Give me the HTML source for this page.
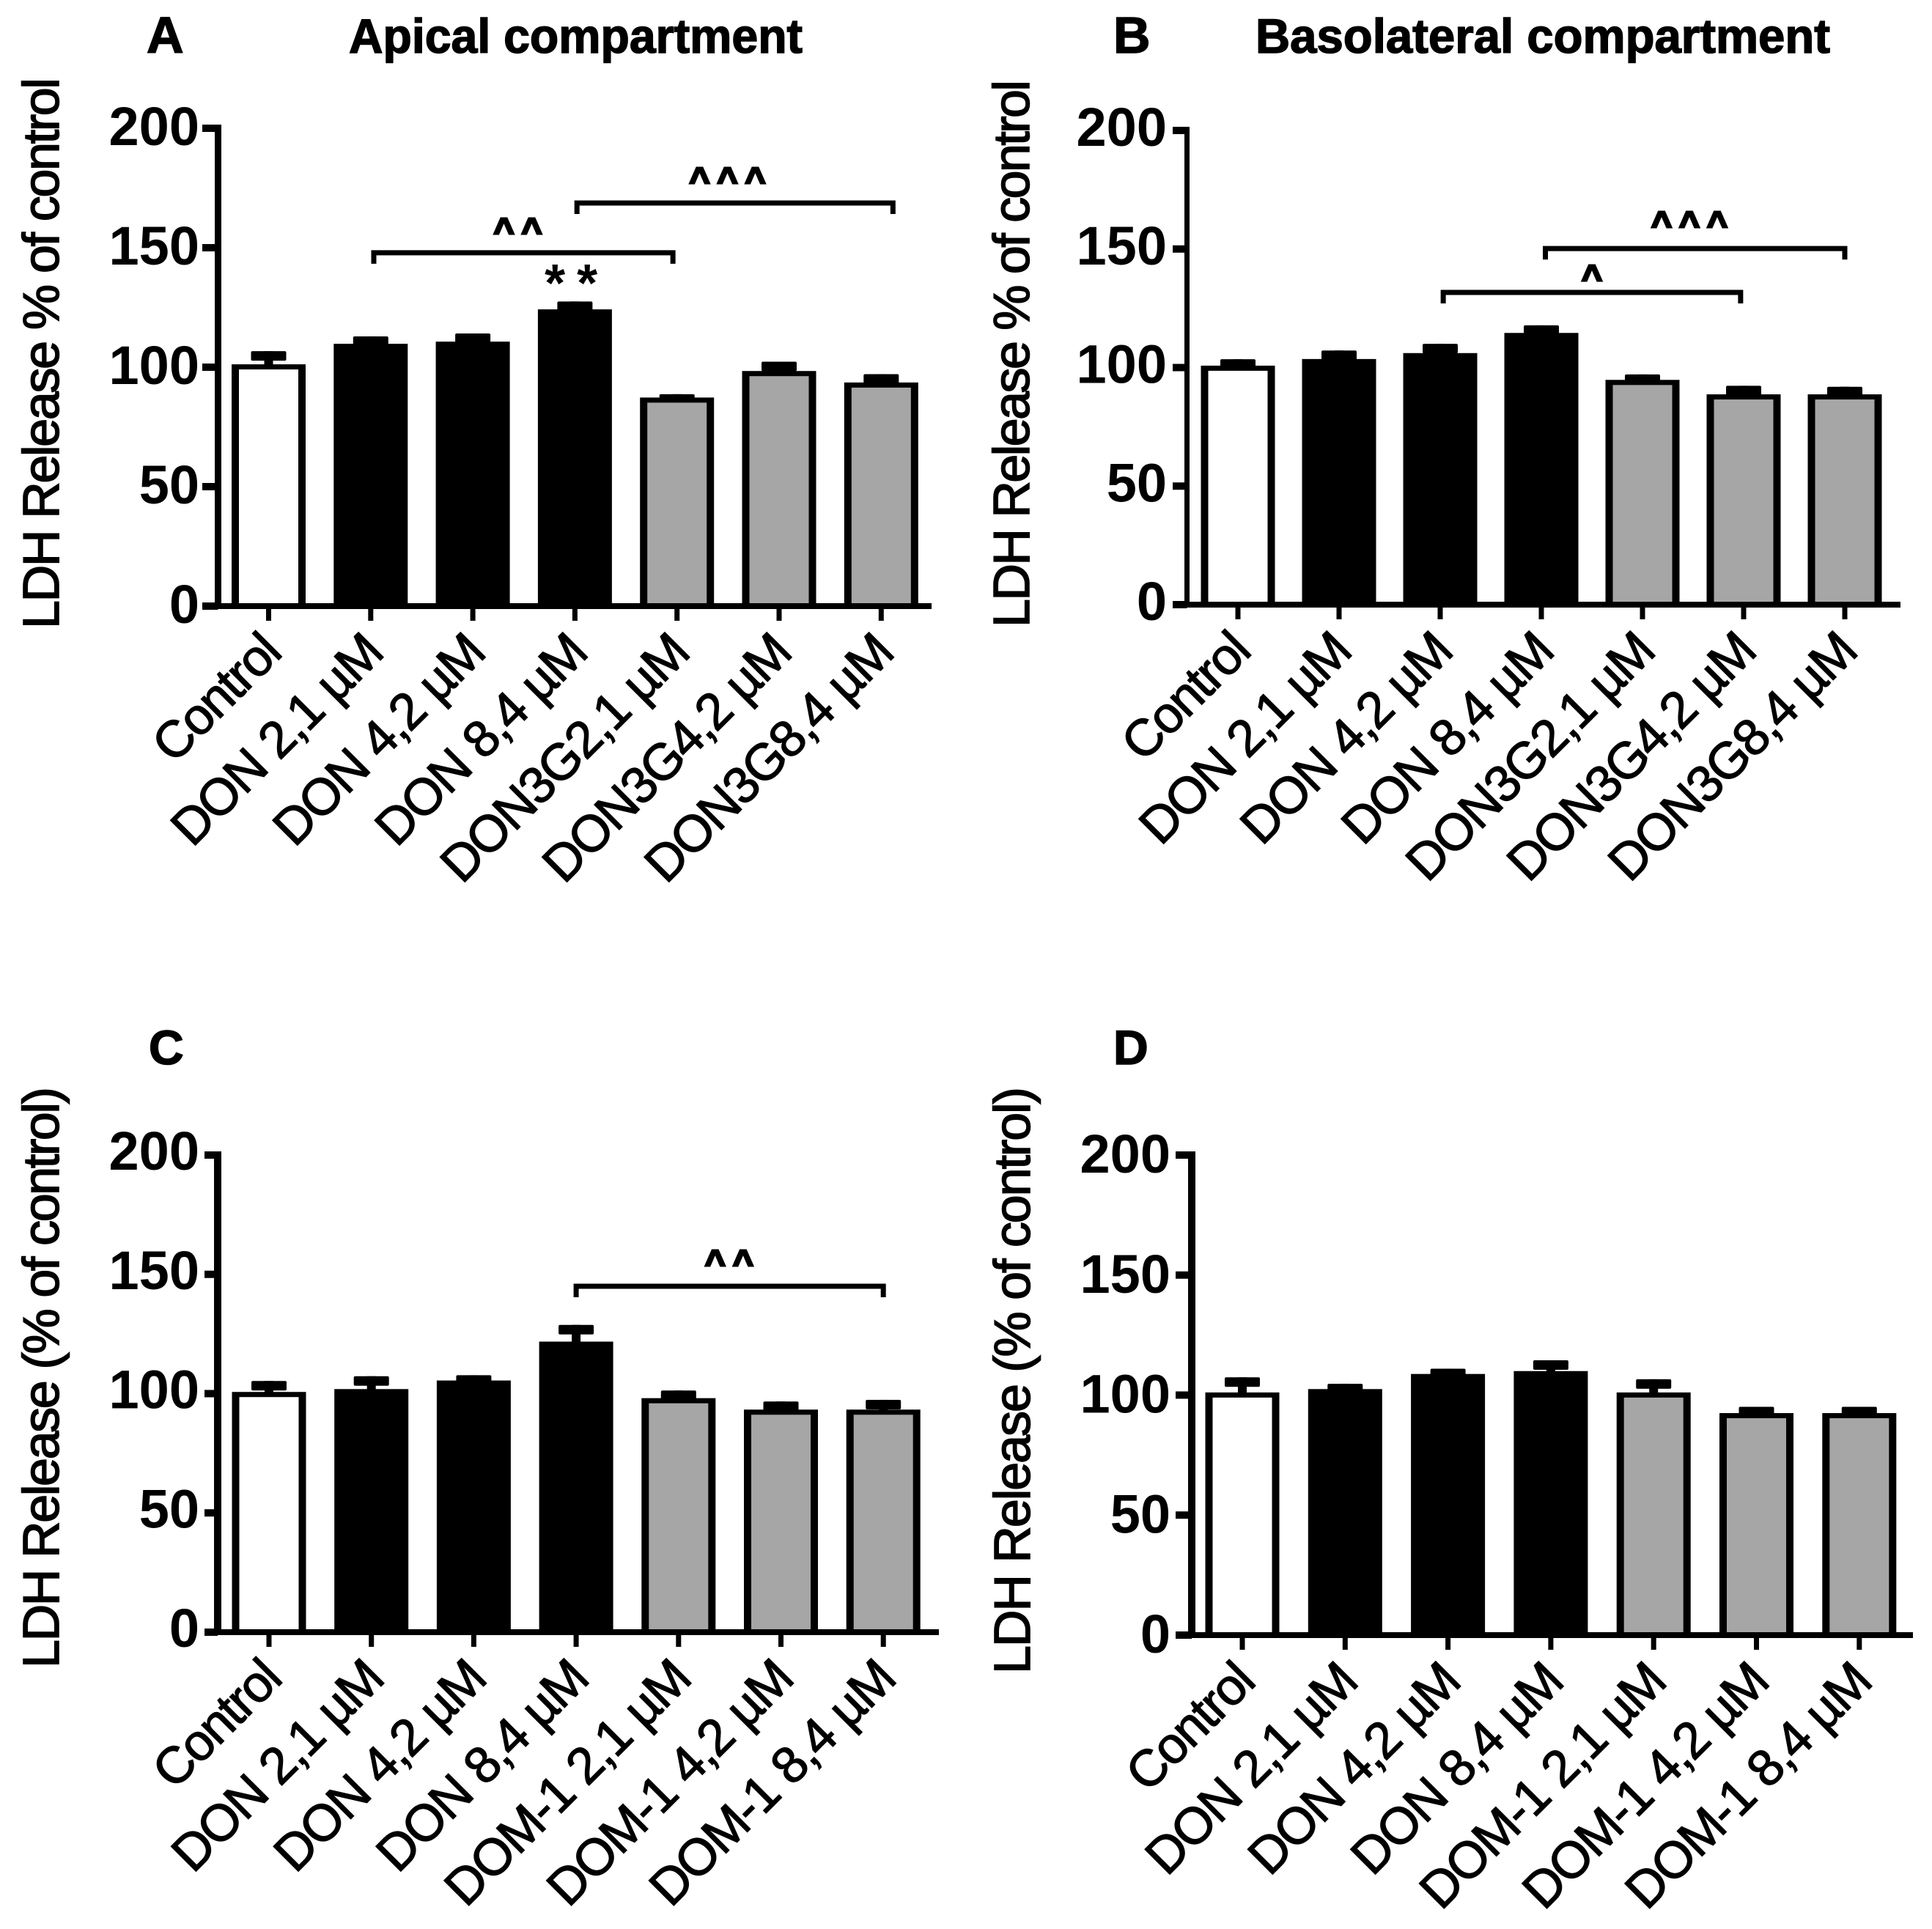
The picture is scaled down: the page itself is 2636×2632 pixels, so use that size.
<!DOCTYPE html>
<html lang="en">
<head>
<meta charset="utf-8">
<title>LDH release charts</title>
<style>
html,body{margin:0;padding:0;background:#fff;}
svg{display:block;}
text{font-family:"Liberation Sans",sans-serif;fill:#000;}
</style>
</head>
<body>
<svg id="chart" xmlns="http://www.w3.org/2000/svg" width="2636" height="2632" viewBox="0 0 2636 2632">
<rect width="2636" height="2632" fill="#fff"></rect>
<text x="200" y="72" font-size="70" font-weight="bold" stroke="#000" stroke-width="1.5">A</text>
<text x="1519" y="72" font-size="70" font-weight="bold" stroke="#000" stroke-width="1.5">B</text>
<text x="203" y="1452" font-size="66" font-weight="bold" stroke="#000" stroke-width="1.5">C</text>
<text x="1519" y="1452" font-size="66" font-weight="bold" stroke="#000" stroke-width="1.5">D</text>
<text x="476" y="72" font-size="66" font-weight="bold" textLength="619" lengthAdjust="spacingAndGlyphs" stroke="#000" stroke-width="1.5">Apical compartment</text>
<text x="1713" y="72" font-size="66" font-weight="bold" textLength="784" lengthAdjust="spacingAndGlyphs" stroke="#000" stroke-width="1.5">Basolateral compartment</text>
</svg>
<script>
var tickLabels = ['0', '50', '100', '150', '200'];
var tickValues = [0, 50, 100, 150, 200];

var categoriesTop = ['Control', 'DON 2,1 µM', 'DON 4,2 µM', 'DON 8,4 µM', 'DON3G2,1 µM', 'DON3G4,2 µM', 'DON3G8,4 µM'];
var categoriesBottom = ['Control', 'DON 2,1 µM', 'DON 4,2 µM', 'DON 8,4 µM', 'DOM-1 2,1 µM', 'DOM-1 4,2 µM', 'DOM-1 8,4 µM'];
var barKinds = ['white', 'black', 'black', 'black', 'gray', 'gray', 'gray'];

var valuesA = [101.2, 109.8, 110.7, 124.2, 87.3, 98.4, 93.6];
var errorTopsA = [106.7, 112.9, 114.1, 127.5, 88.7, 102.3, 97.1];
var valuesB = [100.8, 103.6, 106.1, 114.6, 94.8, 88.7, 88.7];
var errorTopsB = [103.5, 107.2, 110, 117.8, 97.1, 92.3, 91.9];
var valuesC = [100.7, 101.9, 105.5, 121.8, 98.1, 93.3, 93.3];
var errorTopsC = [105.3, 107.3, 107.7, 128.8, 101.3, 96.7, 97.4];
var valuesD = [101.1, 102.5, 108.8, 110, 101.1, 92.5, 92.5];
var errorTopsD = [107.4, 104.7, 111, 114.5, 106.6, 95.1, 95.1];

var bracketsA = [
  {from: 1.03, to: 3.96, level: 147.9, markAt: 2.477, markLevel: 152.1, mark: '^^'},
  {from: 3.02, to: 6.115, level: 168.7, markAt: 4.53, markLevel: 173.3, mark: '^^^'}
];
var bracketsB = [
  {from: 2.03, to: 4.97, level: 131.7, markAt: 3.536, markLevel: 132.9, mark: '^'},
  {from: 3.04, to: 6, level: 150.2, markAt: 4.5, markLevel: 155.5, mark: '^^^'}
];
var bracketsC = [
  {from: 3, to: 6, level: 145, markAt: 4.53, markLevel: 149.9, mark: '^^'}
];
var bracketsD = [];

var starsA = [{at: 3.02, level: 127.6, mark: '**'}];
var starsB = [];
var starsC = [];
var starsD = [];

var yTitleTop = 'LDH Release % of control';
var yTitleBottom = 'LDH Release (% of control)';

var panels = [
  {id: 'a', axisX: 297.5, axisW: 9, tickLeft: 276, y0: 827, y200: 175, x0: 366.5, step: 139.3, xStart: 278, xEnd: 1271, labelRight: 272, labelDy: 23, titleX: 80, titleTop: 106, titleBottom: 858, cats: categoriesTop, values: valuesA, errs: errorTopsA, brackets: bracketsA, stars: starsA, yTitle: yTitleTop},
  {id: 'b', axisX: 1619.5, axisW: 7, tickLeft: 1600, y0: 825, y200: 178, x0: 1689, step: 138, xStart: 1602, xEnd: 2593, labelRight: 1592, labelDy: 21, titleX: 1404, titleTop: 109, titleBottom: 856, cats: categoriesTop, values: valuesB, errs: errorTopsB, brackets: bracketsB, stars: starsB, yTitle: yTitleTop},
  {id: 'c', axisX: 297, axisW: 10, tickLeft: 279, y0: 2227, y200: 1576, x0: 367, step: 139.7, xStart: 282, xEnd: 1281, labelRight: 272, labelDy: 20, titleX: 80, titleTop: 1483, titleBottom: 2276, cats: categoriesBottom, values: valuesC, errs: errorTopsC, brackets: bracketsC, stars: starsC, yTitle: yTitleBottom},
  {id: 'd', axisX: 1626, axisW: 10, tickLeft: 1604, y0: 2231, y200: 1576, x0: 1695, step: 140.3, xStart: 1607, xEnd: 2610, labelRight: 1597, labelDy: 24, titleX: 1405, titleTop: 1483, titleBottom: 2284, cats: categoriesBottom, values: valuesD, errs: errorTopsD, brackets: bracketsD, stars: starsD, yTitle: yTitleBottom}
];

var SVG_NS = 'http://www.w3.org/2000/svg';
var root = document.getElementById('chart');

function make(tag, attrs, parent, txt) {
  var el = document.createElementNS(SVG_NS, tag);
  for (var k in attrs) { el.setAttribute(k, attrs[k]); }
  if (txt !== undefined) { el.textContent = txt; }
  parent.appendChild(el);
  return el;
}

panels.forEach(function (p) {
  var yScale = function (v) { return p.y0 - (v / 200) * (p.y0 - p.y200); };
  var xScale = function (i) { return p.x0 + i * p.step; };

  var g = make('g', {}, root);
  
  

  p.values.forEach(function (v, i) {
    var cx = xScale(i);
    var top = yScale(v);
    var capY = yScale(p.errs[i]);
    var stem = make('rect', {x: cx - 6, y: capY, width: 12, height: top - capY + 2, fill: '#000'}, g);
    
    
    var cap = make('rect', {x: cx - 24, y: capY, width: 48, height: 13, rx: 2, fill: '#000'}, g);
    
    
    var bar = make('rect', {x: cx - 50.5, y: top, width: 101, height: p.y0 - top, fill: '#000'}, g);
    
    
    var kind = barKinds[i];
    if (kind !== 'black') {
      var inner = make('rect', {x: cx - 40.5, y: top + 7, width: 81, height: p.y0 - top - 7, fill: kind === 'white' ? '#fff' : '#a6a6a6'}, g);
      
      
    }
  });

  var yAxis = make('rect', {x: p.axisX - p.axisW / 2, y: p.y200 - 5, width: p.axisW, height: p.y0 - p.y200 + 5, fill: '#000'}, g);
  
  
  var xAxis = make('rect', {x: p.xStart, y: p.y0 - 4, width: p.xEnd - p.xStart, height: 8, fill: '#000'}, g);
  
  

  tickValues.forEach(function (v, i) {
    var y = yScale(v);
    var t = make('rect', {x: p.tickLeft, y: y - 5, width: p.axisX - p.tickLeft, height: 10, fill: '#000'}, g);
    
    
    var lab = make('text', {x: p.labelRight, y: y + p.labelDy, 'font-size': 74, 'font-weight': 'bold', 'text-anchor': 'end'}, g, tickLabels[i]);
    
    
  });

  p.cats.forEach(function (c, i) {
    var cx = xScale(i);
    var t = make('rect', {x: cx - 3.5, y: p.y0, width: 7, height: 20, fill: '#000'}, g);
    
    
    var ex = cx + 20;
    var ey = p.y0 + 67;
    var lab = make('text', {x: ex, y: ey, 'font-size': 70, 'text-anchor': 'end', 'letter-spacing': -2, 'word-spacing': 1, stroke: '#000', 'stroke-width': 1.3, transform: 'rotate(-45 ' + ex + ' ' + ey + ')'}, g, c);
    
    
  });

  var midY = (p.titleTop + p.titleBottom) / 2;
  var yt = make('text', {x: p.titleX, y: midY, 'font-size': 70, 'text-anchor': 'middle', stroke: '#000', 'stroke-width': 1.6, textLength: p.titleBottom - p.titleTop, lengthAdjust: 'spacing', transform: 'rotate(-90 ' + p.titleX + ' ' + midY + ')'}, g, p.yTitle);
  
  

  p.brackets.forEach(function (b, i) {
    var x1 = xScale(b.from);
    var x2 = xScale(b.to);
    var y = yScale(b.level);
    var path = make('path', {d: 'M' + x1 + ' ' + (y + 15) + 'V' + y + 'H' + x2 + 'V' + (y + 15), fill: 'none', stroke: '#000', 'stroke-width': 7}, g);
    
    
    var mark = make('text', {x: xScale(b.markAt), y: yScale(b.markLevel), 'font-size': 48, 'font-weight': 'bold', 'text-anchor': 'middle', 'letter-spacing': 10, stroke: '#000', 'stroke-width': 3}, g, b.mark);
    
    
  });

  p.stars.forEach(function (s, i) {
    var star = make('text', {x: xScale(s.at), y: yScale(s.level), 'font-size': 72, 'font-weight': 'bold', 'text-anchor': 'middle', 'letter-spacing': 16}, g, s.mark);
    
    
  });
});
</script>
</body>
</html>
